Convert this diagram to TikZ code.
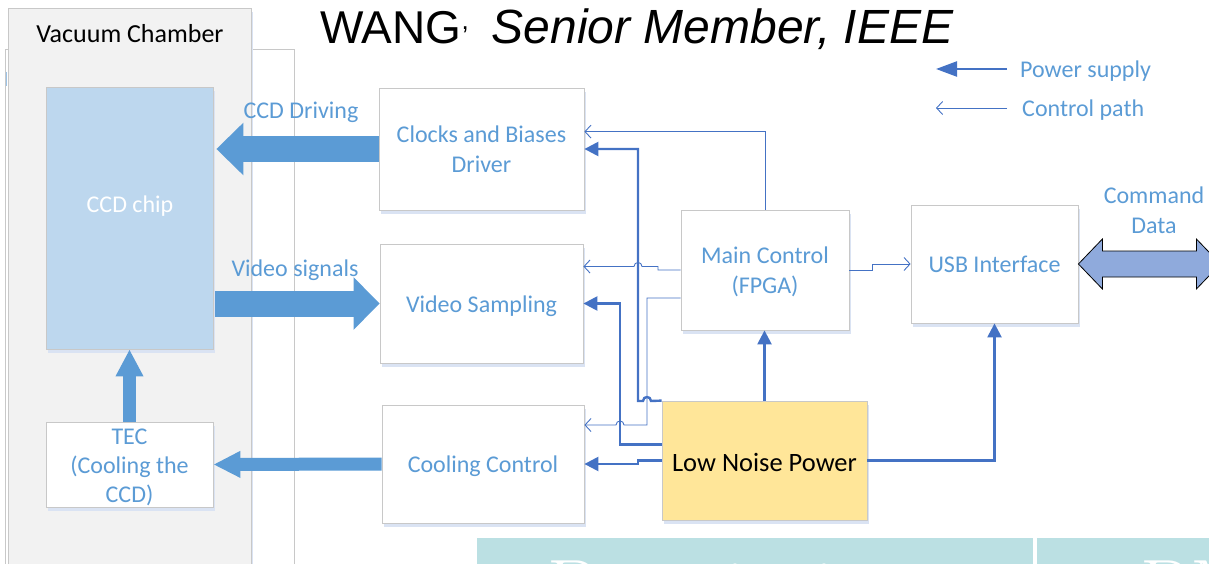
\documentclass[tikz,border=0pt]{standalone}
\usepackage{fontspec}
\newfontfamily\calibri{Carlito}
\newfontfamily\titlefont{Liberation Sans}
\usetikzlibrary{arrows.meta,calc}

\definecolor{txtblue}{HTML}{5B9BD5}
\definecolor{pwrblue}{HTML}{4472C4}
\definecolor{boxgray}{HTML}{C8C8C8}
\definecolor{shadowblue}{HTML}{DAE3F3}
\definecolor{chipblue}{HTML}{BDD7EE}
\definecolor{lnpyellow}{HTML}{FFE699}
\definecolor{chamberfill}{HTML}{F2F2F2}
\definecolor{busfill}{HTML}{8FAADC}
\definecolor{fatfill}{HTML}{5B9BD5}
\definecolor{tablecyan}{HTML}{BBE0E3}
\definecolor{markblue}{HTML}{9DC3E6}

\begin{document}
\begin{tikzpicture}[x=1pt,y=-1pt,
  shadowed/.style={preaction={fill=shadowblue,transform canvas={shift={(1.5pt,-4pt)}}}},
  block/.style={shadowed,draw=boxgray,line width=0.8pt,fill=white,inner sep=0pt},
  lbl/.style={inner sep=0pt,font=\calibri\fontsize{24}{30}\selectfont,text=txtblue,align=center},
  pwr/.style={draw=pwrblue,line width=2.4pt,-{Triangle[length=14pt,width=14pt]}},
  ctl/.style={draw=pwrblue,line width=0.9pt,-{Straight Barb[length=6pt,width=13pt]}},
  fat/.style={draw=fatfill,line width=#1},
]
\useasboundingbox (0,0) rectangle (1209,564);

% chamber walls
\node[draw=boxgray,fill=white,line width=0.8pt,minimum width=289,minimum height=530,anchor=north west] (outer) at (5,49) {};
\node[shadowed,draw=boxgray,fill=chamberfill,line width=0.8pt,minimum width=243,minimum height=570,anchor=north west] (vac) at (8,8) {};
\draw[markblue,line width=1.5pt] (6.5,72) coordinate (markA) -- (6.5,86) coordinate (markB);
\node[inner sep=0pt,font=\calibri\fontsize{26}{30}\selectfont] (vactxt) at (130,34) {Vacuum Chamber};

% title line
\node[anchor=base west,inner sep=0pt,font=\titlefont\fontsize{46}{50}\selectfont] (title) at (320,43.5)
  {WANG\raisebox{0.3em}{\fontsize{26}{26}\selectfont,}\hspace{0.5em}{\fontsize{48}{50}\selectfont\itshape Senior Member, IEEE}};

% blocks
\node[block,fill=chipblue,minimum width=167,minimum height=262] (ccd) at (129.5,218) {};
\node[lbl,text=white] (ccdtxt) at (130,206) {CCD chip};
\node[block,minimum width=167,minimum height=85,
  label={[lbl,font=\calibri\fontsize{24}{29}\selectfont,yshift=-3pt]center:{TEC\\(Cooling the\\CCD)}}] (tec) at (129.5,464.5) {};
\node[block,minimum width=205,minimum height=122,
  label={[lbl,yshift=-0.5pt]center:{Clocks and Biases\\Driver}}] (clk) at (481.5,149) {};
\node[block,minimum width=203,minimum height=119,
  label={[lbl,yshift=-2.5pt]center:{Video Sampling}}] (vid) at (481.5,303.5) {};
\node[block,minimum width=202,minimum height=118,
  label={[lbl,yshift=-2pt]center:{Cooling Control}}] (cool) at (483,464) {};
\node[block,minimum width=168,minimum height=120,
  label={[lbl,yshift=-2pt]center:{Main Control\\(FPGA)}}] (main) at (765,270) {};
\node[block,minimum width=167,minimum height=118,
  label={[lbl,yshift=-0.5pt]center:{USB Interface}}] (usb) at (994.5,264) {};
\node[block,fill=lnpyellow,minimum width=205,minimum height=119,
  label={[lbl,text=black,font=\calibri\fontsize{26.5}{30}\selectfont,yshift=-1.5pt]center:{Low Noise Power}}] (lnp) at (764.5,460.5) {};

% wide signal arrows
\draw[fat=26pt,-{Triangle[length=27pt,width=51pt]}] (clk.west) -- ($(ccd.east |- clk.west)+(3,0)$);
\draw[fat=26pt,-{Triangle[length=26pt,width=51pt]}] ($(ccd.east |- vid.west)+(2,0)$) -- (vid.west);
\draw[fat=13pt,-{Triangle[length=27pt,width=25pt]}] (cool.west) -- (tec.east);
\draw[fat=13pt,-{Triangle[length=27pt,width=26pt]}] (tec.north) -- (ccd.south);
\node[lbl] (drvtxt) at (301,112) {CCD Driving};
\node[lbl] (vidtxt) at (295,270) {Video signals};

% host link
\draw[fill=busfill,draw=black,line width=0.8pt] (usb.east) -- ++(24,-25) -- ++(0,12) -- ++(94,0) -- ++(0,-12)
  -- ++(24,25) -- ++(-24,25) -- ++(0,-12) -- ++(-94,0) -- ++(0,12) -- cycle;
\node[lbl] (cmdtxt) at (1154,210) {Command\\Data};

% power supply paths
\draw[pwr] (lnp.north west) -- (651,401) .. controls (651,395.7) and (643,395.7) .. (643,401)
  -- (638,401) -- (638,149) -- (clk.east);
\draw[pwr] ($(lnp.west)+(0,-16)$) -- (620,444.5) -- (620,303.5) -- (vid.east);
\draw[pwr] (lnp.west) -- (638,460.5) -- (638,464) -- (cool.east);
\draw[pwr] (lnp.north) -- (lnp.north |- main.south);
\draw[pwr] (lnp.east) -| (usb.south);

% control paths
\draw[ctl] (main.north) |- ($(clk.north east)+(0,44)$);
\draw[ctl] (main.west) -- (658,270) -- (658,266.5) -- (642,266.5)
  .. controls (642,261.2) and (634,261.2) .. (634,266.5) -- (vid.east |- 0,266.5);
\draw[ctl] ($(main.west)+(0,28)$) -- (647,298) -- (647,425) -- (624,425)
  .. controls (624,419.7) and (616,419.7) .. (616,425) -- (cool.east |- 0,425);
\draw[ctl] (main.east) -- (872,270) -- (872,264) -- (usb.west);

% legend
\coordinate (lgPa) at (1007,69);
\coordinate (lgPb) at (936,69);
\coordinate (lgCa) at (1007,108);
\coordinate (lgCb) at (936,108);
\draw[draw=pwrblue,line width=2.4pt,-{Triangle[length=21pt,width=15pt]}] (lgPa) -- (lgPb);
\draw[ctl] (lgCa) -- (lgCb);
\node[lbl,anchor=west] (lgPtxt) at (1020,71) {Power supply};
\node[lbl,anchor=west] (lgCtxt) at (1022,110) {Control path};

% table header below
\node[fill=tablecyan,inner sep=0pt,minimum width=556,minimum height=40,anchor=north west] (cellA) at (477,538) {};
\node[fill=tablecyan,inner sep=0pt,minimum width=180,minimum height=40,anchor=north west] (cellB) at (1037,538) {};
\node[anchor=base west,inner sep=0pt,text=white,font=\fontsize{80}{80}\selectfont] (hdrA) at (547,615) {Description};
\node[anchor=base west,inner sep=0pt,text=white,font=\fontsize{80}{80}\selectfont] (hdrB) at (1140,615) {PM};
\end{tikzpicture}
\end{document}
